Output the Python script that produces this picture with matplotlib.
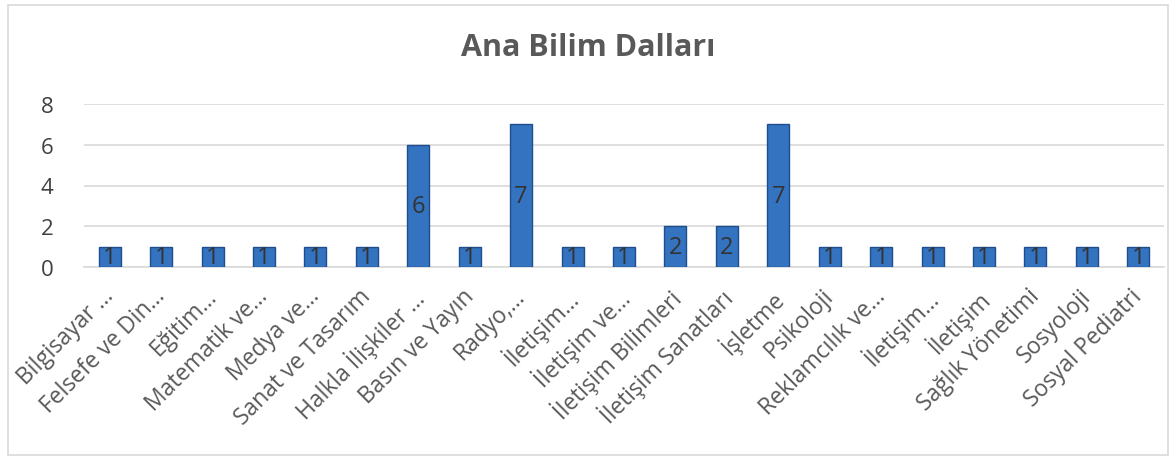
import matplotlib.pyplot as plt
import matplotlib.transforms as mtransforms
from matplotlib.patches import Rectangle

categories = ['Bilgisayar …', 'Felsefe ve Din…', 'Eğitim…', 'Matematik ve…',
              'Medya ve…', 'Sanat ve Tasarım', 'Halkla İlişkiler …', 'Basın ve Yayın',
              'Radyo,…', 'İletişim…', 'İletişim ve…', 'İletişim Bilimleri',
              'İletişim Sanatları', 'İşletme', 'Psikoloji', 'Reklamcılık ve…',
              'İletişim…', 'İletişim', 'Sağlık Yönetimi', 'Sosyoloji', 'Sosyal Pediatri']
values = [1, 1, 1, 1, 1, 1, 6, 1, 7, 1, 1, 2, 2, 7, 1, 1, 1, 1, 1, 1, 1]
title = 'Ana Bilim Dalları'
yticks = [0, 2, 4, 6, 8]

plt.rcParams['font.family'] = ['Open Sans', 'DejaVu Sans']

fig = plt.figure(figsize=(11.76, 4.64), dpi=100)
fig.patches.append(Rectangle((8 / 1176, 8 / 464), 1160 / 1176, 450 / 464,
                             transform=fig.transFigure, fill=False,
                             edgecolor='#D9D9D9', linewidth=1.2))

ax = fig.add_axes([84 / 1176, 1 - 268 / 464, 1080 / 1176, 163 / 464])
x = range(len(categories))
bars = ax.bar(x, values, width=0.43, color='#3473C0', edgecolor='#1F4E8C',
              linewidth=1.0, zorder=3)
for b, v in zip(bars, values):
    ax.text(b.get_x() + b.get_width() / 2, v / 2, str(v), ha='center', va='center',
            fontsize=17, color='#333333', zorder=4)

ax.set_xlim(-0.5, len(categories) - 0.5)
ax.set_ylim(0, 8)
ax.set_yticks(yticks)
ax.set_yticklabels([str(t) for t in yticks], fontsize=16, color='#404040')
ax.yaxis.grid(True, color='#D9D9D9', linewidth=1.2, zorder=0)
ax.set_xticks(list(x))
ax.set_xticklabels(categories, rotation=45, ha='right', rotation_mode='anchor',
                   fontsize=16.5, color='#595959')
ax.tick_params(axis='both', length=0)
ax.tick_params(axis='y', pad=22)
ax.tick_params(axis='x', pad=12)
offset = mtransforms.ScaledTranslation(-8 / 100, 0, fig.dpi_scale_trans)
for lbl in ax.get_xticklabels():
    lbl.set_transform(lbl.get_transform() + offset)
for s in ['top', 'right', 'left']:
    ax.spines[s].set_visible(False)
ax.spines['bottom'].set_color('#D9D9D9')
ax.spines['bottom'].set_linewidth(1.2)

fig.text(0.5, 1 - 48 / 464, title, ha='center', va='center', fontsize=22,
         fontweight='bold', color='#595959')

fig.savefig('out.png', dpi=100)
